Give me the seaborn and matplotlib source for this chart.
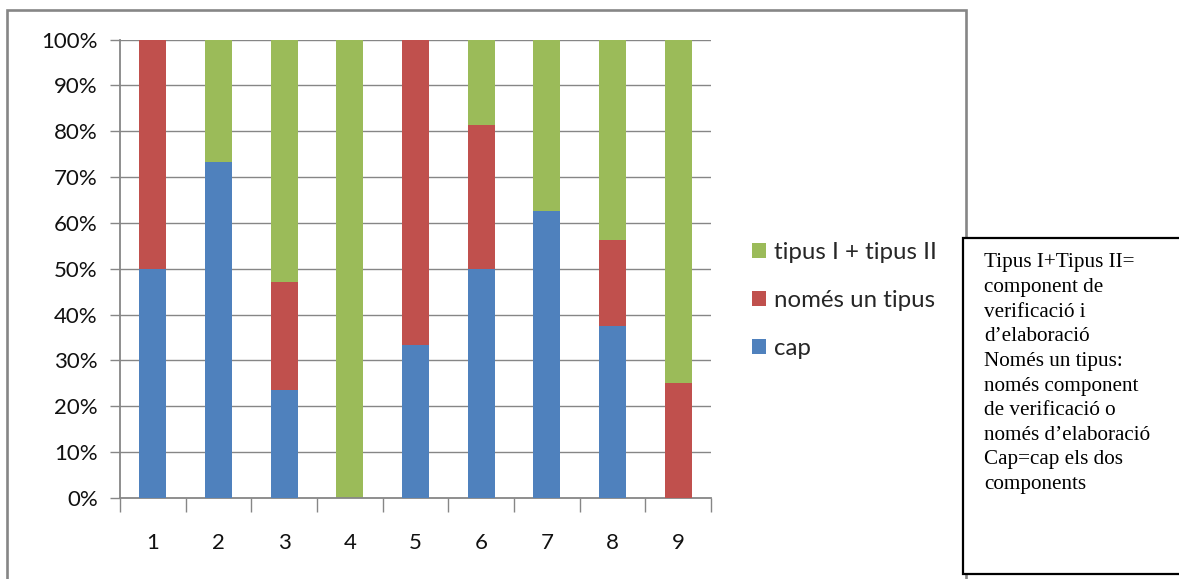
import matplotlib
matplotlib.use("Agg")
import matplotlib.pyplot as plt
from matplotlib.patches import Rectangle, Patch
from matplotlib.ticker import FixedLocator, PercentFormatter
import numpy as np
import pandas as pd
import seaborn as sns

# Share of each answer type per item (percent, each column sums to 100)
items = ["1", "2", "3", "4", "5", "6", "7", "8", "9"]
cap = [50.0, 73.33, 23.53, 0.0, 33.33, 50.0, 62.5, 37.5, 0.0]
nomes_un_tipus = [50.0, 0.0, 23.53, 0.0, 66.67, 31.25, 0.0, 18.75, 25.0]
tipus_i_ii = [0.0, 26.67, 52.94, 100.0, 0.0, 18.75, 37.5, 43.75, 75.0]

series_names = ["tipus I + tipus II", "només un tipus", "cap"]
colors = {"cap": "#4F81BD", "només un tipus": "#C0504D", "tipus I + tipus II": "#9BBB59"}

note_lines = [
    "Tipus I+Tipus II=",
    "component de",
    "verificació i",
    "d\u2019elaboració",
    "Només un tipus:",
    "només component",
    "de verificació o",
    "només d\u2019elaboració",
    "Cap=cap els dos",
    "components",
]

df = pd.DataFrame({
    "item": items,
    "cap": cap,
    "només un tipus": nomes_un_tipus,
    "tipus I + tipus II": tipus_i_ii,
})
# cumulative tops for layered stacking (drawn back to front)
df["top_cap"] = df["cap"] / 100
df["top_nomes"] = (df["cap"] + df["només un tipus"]) / 100
df["top_all"] = (df["cap"] + df["només un tipus"] + df["tipus I + tipus II"]) / 100

sns.set_theme(style="white")
plt.rcParams["font.family"] = ["Lato", "DejaVu Sans"]

W, H = 1179, 579
fig = plt.figure(figsize=(W / 100, H / 100), dpi=100)

def fx(px):
    return px / W

def fy(py):
    return 1 - py / H

# outer chart frame
fig.patches.append(Rectangle((fx(7.5), fy(590)), fx(966) - fx(7.5), fy(9.5) - fy(590),
                             transform=fig.transFigure, fill=False,
                             edgecolor="#868686", linewidth=1.9, zorder=0))

ax = fig.add_axes([fx(120), fy(498), fx(711) - fx(120), fy(39.5) - fy(498)])

bw = 0.41
sns.barplot(data=df, x="item", y="top_all", color=colors["tipus I + tipus II"],
            width=bw, saturation=1, ax=ax, zorder=2, linewidth=0)
sns.barplot(data=df, x="item", y="top_nomes", color=colors["només un tipus"],
            width=bw, saturation=1, ax=ax, zorder=3, linewidth=0)
sns.barplot(data=df, x="item", y="top_cap", color=colors["cap"],
            width=bw, saturation=1, ax=ax, zorder=4, linewidth=0)

ax.set_xlim(-0.5, len(items) - 0.5)
ax.set_ylim(0, 1)
ax.set_xlabel("")
ax.set_ylabel("")

grid_c = "#868686"
ax.yaxis.set_major_locator(FixedLocator(np.linspace(0, 1, 11)))
ax.yaxis.set_major_formatter(PercentFormatter(xmax=1, decimals=0))
for yv in np.linspace(0.1, 1, 10):
    ax.axhline(yv, color=grid_c, linewidth=1, zorder=1)

for s in ["top", "right"]:
    ax.spines[s].set_visible(False)
for s in ["left", "bottom"]:
    ax.spines[s].set_color(grid_c)
    ax.spines[s].set_linewidth(1.3)

ax.tick_params(axis="y", which="major", length=7, width=1, color=grid_c,
               direction="out", left=True, pad=9, labelsize=16, labelcolor="#111111")
ax.set_xticks(range(len(items)))
ax.set_xticks(np.arange(-0.5, len(items) + 0.5, 1), minor=True)
ax.tick_params(axis="x", which="major", length=0, pad=25, labelsize=16, labelcolor="#111111")
ax.tick_params(axis="x", which="minor", length=10, width=1, color=grid_c,
               direction="out", bottom=True)

handles = [Patch(facecolor=colors[n], edgecolor="none") for n in series_names]
fig.legend(handles, series_names, loc="upper left",
           bbox_to_anchor=(fx(752), fy(242)), frameon=False,
           fontsize=17.3, handlelength=0.6, handleheight=0.6,
           handletextpad=0.3, labelspacing=1.12, borderaxespad=0, borderpad=0)

# explanatory note box
fig.patches.append(Rectangle((fx(963), fy(574)), fx(1200) - fx(963), fy(238) - fy(574),
                             transform=fig.transFigure, facecolor="white",
                             edgecolor="black", linewidth=1.6, zorder=5))
fig.text(fx(984), fy(253.5), "\n".join(note_lines), ha="left", va="top",
         family="Liberation Serif", fontsize=15.2, linespacing=1.40,
         color="black", zorder=6)

fig.savefig("out.png", dpi=100)
